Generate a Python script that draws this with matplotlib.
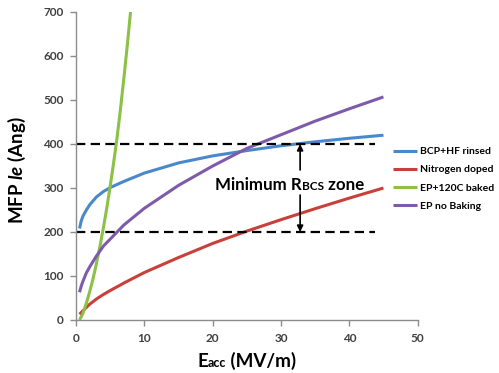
import matplotlib
matplotlib.use("Agg")
import matplotlib.pyplot as plt
from matplotlib.offsetbox import TextArea, HPacker, AnnotationBbox

# ---- data ----
bcp_x = [0.5, 0.75, 1, 1.5, 2, 3, 4, 5, 7, 10, 15, 20, 25, 30, 35, 40, 45]
bcp_y = [208, 225, 236, 250, 262, 280, 292, 301, 315, 334, 357, 373, 385, 396, 405, 413, 420]

nit_x = [0.5, 1, 2, 3, 4, 5, 7, 10, 15, 20, 25, 30, 35, 40, 45]
nit_y = [13, 21, 36, 48, 58, 67, 84, 108, 142, 174, 202, 228, 253, 277, 300]

ep120_x = [0.5, 1, 1.5, 2, 2.5, 3, 3.5, 4, 4.5, 5, 5.5, 6, 6.5, 7, 7.5, 8]
ep120_y = [0, 15, 38, 65, 95, 130, 168, 210, 255, 305, 358, 415, 480, 550, 625, 705]

ep_x = [0.5, 0.75, 1, 1.5, 2, 3, 4, 5, 7, 10, 15, 20, 25, 30, 35, 40, 45]
ep_y = [63, 77, 88, 107, 121, 146, 168, 184, 216, 254, 306, 350, 390, 421, 452, 480, 507]

series_labels = ["BCP+HF rinsed", "Nitrogen doped", "EP+120C baked", "EP no Baking"]
zone_levels = [200, 400]
zone_x_end = 43.7
arrow_x = 32.8
x_ticks = [0, 10, 20, 30, 40, 50]
y_ticks = [0, 100, 200, 300, 400, 500, 600, 700]

# ---- style ----
FONT = "Lato"
plt.rcParams["font.family"] = [FONT, "DejaVu Sans"]
plt.rcParams["mathtext.fontset"] = "custom"
plt.rcParams["mathtext.rm"] = "Lato:bold"
plt.rcParams["mathtext.it"] = "Lato:italic:bold"
plt.rcParams["mathtext.bf"] = "Lato:bold"

colors = ["#4A88CC", "#C9403A", "#8CC046", "#7E5BAA"]
TXT = "#404040"
AX = "#8C8C8C"

fig = plt.figure(figsize=(4.99, 3.73), dpi=100)
W, H = 499, 373
x0, x1, ytop, ybot = 76.1, 417.6, 12, 320
ax = fig.add_axes([x0 / W, 1 - ybot / H, (x1 - x0) / W, (ybot - ytop) / H])

lw = 2.2
ax.plot(bcp_x, bcp_y, color=colors[0], lw=lw, label=series_labels[0], solid_capstyle="butt")
ax.plot(nit_x, nit_y, color=colors[1], lw=lw, label=series_labels[1], solid_capstyle="butt")
ax.plot(ep120_x, ep120_y, color=colors[2], lw=lw, label=series_labels[2], solid_capstyle="butt")
ax.plot(ep_x, ep_y, color=colors[3], lw=lw, label=series_labels[3], solid_capstyle="butt")

for lv in zone_levels:
    ax.plot([0, zone_x_end], [lv, lv], color="black", lw=1.6, dashes=(4.2, 2.4))

# arrows (split around the text)
ax.annotate("", xy=(arrow_x, zone_levels[1]), xytext=(arrow_x, 341),
            arrowprops=dict(arrowstyle="-|>", color="black", lw=1.2, mutation_scale=9,
                            shrinkA=0, shrinkB=0))
ax.annotate("", xy=(arrow_x, zone_levels[0]), xytext=(arrow_x, 284),
            arrowprops=dict(arrowstyle="-|>", color="black", lw=1.2, mutation_scale=9,
                            shrinkA=0, shrinkB=0))

# "Minimum R_BCS zone"
big = dict(fontsize=12.2, fontweight="bold", color="black", family=FONT)
small = dict(fontsize=8.5, fontweight="bold", color="black", family=FONT)
pack = HPacker(children=[TextArea("Minimum R", textprops=big),
                         TextArea("BCS", textprops=small),
                         TextArea(" zone", textprops=big)],
               align="baseline", pad=0, sep=0)
ab = AnnotationBbox(pack, (31.3, 307), xycoords="data", frameon=False,
                    box_alignment=(0.5, 0.5))
ax.add_artist(ab)

# axes styling
ax.set_xlim(0, 50)
ax.set_ylim(0, 700)
ax.set_xticks(x_ticks)
ax.set_yticks(y_ticks)
for s in ["top", "right"]:
    ax.spines[s].set_visible(False)
for s in ["left", "bottom"]:
    ax.spines[s].set_color(AX)
    ax.spines[s].set_linewidth(1.0)
ax.tick_params(axis="both", colors=AX, length=4, width=1.0, labelcolor=TXT,
               labelsize=8.5, pad=5)
for lab in ax.get_xticklabels() + ax.get_yticklabels():
    lab.set_fontweight("bold")

ax.set_ylabel(r"MFP $le$ (Ang)", fontsize=13.5, fontweight="bold", color="black")
ax.yaxis.set_label_coords((28 - x0) / (x1 - x0), (ybot - 170) / (ybot - ytop))

# x label "Eacc (MV/m)"
bigx = dict(fontsize=13.5, fontweight="bold", color="black", family=FONT)
smallx = dict(fontsize=9, fontweight="bold", color="black", family=FONT)
packx = HPacker(children=[TextArea("E", textprops=bigx),
                          TextArea("acc", textprops=smallx),
                          TextArea(" (MV/m)", textprops=bigx)],
                align="baseline", pad=0, sep=0)
abx = AnnotationBbox(packx, (247 / W, 1 - 361 / H), xycoords="figure fraction",
                     frameon=False, box_alignment=(0.5, 0.5))
fig.add_artist(abx)

leg = ax.legend(loc="upper left", bbox_to_anchor=((393 - x0) / (x1 - x0), (ybot - 147) / (ybot - ytop)),
                frameon=False, fontsize=7.5, handlelength=2.3, handletextpad=0.25,
                labelspacing=0.85, borderpad=0, borderaxespad=0)
for t in leg.get_texts():
    t.set_fontweight("bold")
    t.set_color("black")

fig.savefig("out.png", dpi=100)
